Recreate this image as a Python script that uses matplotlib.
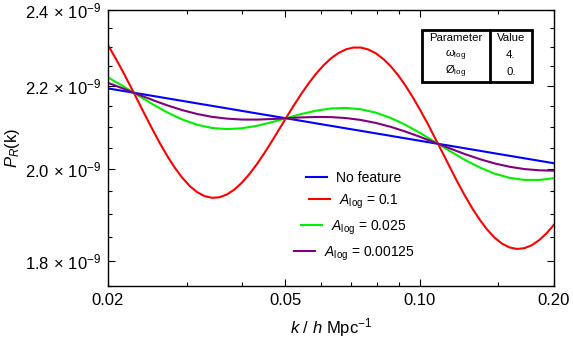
import matplotlib
matplotlib.use("Agg")
import matplotlib.pyplot as plt
from matplotlib.patches import Rectangle
from matplotlib.ticker import FixedLocator, FixedFormatter, NullFormatter

plt.rcParams['font.family'] = ['Liberation Sans', 'DejaVu Sans']
plt.rcParams['mathtext.fontset'] = 'custom'
plt.rcParams['mathtext.rm'] = 'Liberation Sans'
plt.rcParams['mathtext.it'] = 'Liberation Sans:italic'
plt.rcParams['mathtext.bf'] = 'Liberation Sans:bold'

# k in h/Mpc
k = [0.02000, 0.02160, 0.02332, 0.02518, 0.02719, 0.02936, 0.03170, 0.03423,
     0.03696, 0.03991, 0.04309, 0.04653, 0.05024, 0.05425, 0.05857, 0.06325,
     0.06829, 0.07374, 0.07962, 0.08597, 0.09283, 0.1002, 0.1082, 0.1169,
     0.1262, 0.1363, 0.1471, 0.1589, 0.1715, 0.1852, 0.2000]
# finer k grid for the big oscillation
k_fine = [0.02000, 0.02078, 0.02160, 0.02244, 0.02332, 0.02423, 0.02518, 0.02616,
          0.02719, 0.02825, 0.02936, 0.03051, 0.03170, 0.03294, 0.03423, 0.03557,
          0.03696, 0.03840, 0.03991, 0.04147, 0.04309, 0.04478, 0.04653, 0.04835,
          0.05024, 0.05220, 0.05425, 0.05637, 0.05857, 0.06086, 0.06325, 0.06572,
          0.06829, 0.07096, 0.07374, 0.07662, 0.07962, 0.08274, 0.08597, 0.08934,
          0.09283, 0.09646, 0.1002, 0.1042, 0.1082, 0.1125, 0.1169, 0.1214,
          0.1262, 0.1311, 0.1363, 0.1416, 0.1471, 0.1529, 0.1589, 0.1651,
          0.1715, 0.1783, 0.1852, 0.1925, 0.2000]

# P_R(k) in units of 1e-9
no_feature = [2.1940, 2.1877, 2.1815, 2.1753, 2.1691, 2.1629, 2.1567, 2.1506,
              2.1445, 2.1383, 2.1322, 2.1262, 2.1201, 2.1141, 2.1080, 2.1020,
              2.0960, 2.0901, 2.0841, 2.0782, 2.0722, 2.0663, 2.0604, 2.0546,
              2.0487, 2.0429, 2.0370, 2.0312, 2.0254, 2.0197, 2.0139]
a_01 = [2.3052, 2.2717, 2.2364, 2.2001, 2.1636, 2.1275, 2.0928, 2.0600,
        2.0300, 2.0033, 1.9805, 1.9620, 1.9483, 1.9395, 1.9358, 1.9371,
        1.9433, 1.9542, 1.9695, 1.9887, 2.0112, 2.0366, 2.0641, 2.0930,
        2.1224, 2.1518, 2.1802, 2.2069, 2.2313, 2.2528, 2.2708, 2.2847,
        2.2942, 2.2990, 2.2990, 2.2941, 2.2843, 2.2698, 2.2510, 2.2281,
        2.2017, 2.1722, 2.1406, 2.1072, 2.0729, 2.0384, 2.0045, 1.9718,
        1.9410, 1.9130, 1.8880, 1.8668, 1.8497, 1.8370, 1.8290, 1.8258,
        1.8273, 1.8335, 1.8442, 1.8589, 1.8772]
a_0025 = [2.2218, 2.1999, 2.1770, 2.1547, 2.1343, 2.1173, 2.1046, 2.0969,
          2.0942, 2.0961, 2.1020, 2.1107, 2.1207, 2.1306, 2.1388, 2.1442,
          2.1455, 2.1423, 2.1341, 2.1214, 2.1046, 2.0849, 2.0635, 2.0421,
          2.0218, 2.0042, 1.9902, 1.9807, 1.9759, 1.9758, 1.9797]
a_000125 = [2.2079, 2.1938, 2.1793, 2.1650, 2.1517, 2.1401, 2.1307, 2.1237,
            2.1194, 2.1172, 2.1171, 2.1184, 2.1204, 2.1224, 2.1234, 2.1231,
            2.1208, 2.1162, 2.1091, 2.0998, 2.0884, 2.0756, 2.0620, 2.0483,
            2.0352, 2.0235, 2.0136, 2.0059, 2.0006, 1.9978, 1.9968]

labels = ['No feature', r'$A_{\mathrm{log}}$ = 0.1',
          r'$A_{\mathrm{log}}$ = 0.025', r'$A_{\mathrm{log}}$ = 0.00125']
colors = ['#0000ff', '#ff0000', '#00f000', '#800080']

xticks = [0.02, 0.05, 0.10, 0.20]
xticklabels = ['0.02', '0.05', '0.10', '0.20']
xminor = [0.03, 0.04, 0.06, 0.07, 0.08, 0.09, 0.15]
yticks = [1.8e-9, 2.0e-9, 2.2e-9, 2.4e-9]
yticklabels = [r'1.8$\,\times\,$10$^{-9}$', r'2.0$\,\times\,$10$^{-9}$',
               r'2.2$\,\times\,$10$^{-9}$', r'2.4$\,\times\,$10$^{-9}$']
yminor = [1.75e-9, 1.85e-9, 1.9e-9, 1.95e-9, 2.05e-9, 2.1e-9, 2.15e-9,
          2.25e-9, 2.3e-9, 2.35e-9]

table_rows = [('Parameter', 'Value'),
              (r'$\omega_{\mathrm{log}}$', '4.'),
              (r'Ø$_{\mathrm{log}}$', '0.')]

fig = plt.figure(figsize=(5.73, 3.41), dpi=100)
ax = fig.add_axes([0.1885, 0.1613, 0.7783, 0.8094])

series = [(k, no_feature), (k_fine, a_01), (k, a_0025), (k, a_000125)]
for (xs, ys), c, lab in zip(series, colors, labels):
    ax.plot(xs, [v * 1e-9 for v in ys], color=c, lw=1.5, label=lab)

ax.set_xscale('log')
ax.set_yscale('log')
ax.set_xlim(0.02, 0.20)
ax.set_ylim(1.75e-9, 2.4e-9)

ax.xaxis.set_major_locator(FixedLocator(xticks))
ax.xaxis.set_major_formatter(FixedFormatter(xticklabels))
ax.xaxis.set_minor_locator(FixedLocator(xminor))
ax.xaxis.set_minor_formatter(NullFormatter())
ax.yaxis.set_major_locator(FixedLocator(yticks))
ax.yaxis.set_major_formatter(FixedFormatter(yticklabels))
ax.yaxis.set_minor_locator(FixedLocator(yminor))
ax.yaxis.set_minor_formatter(NullFormatter())

ax.tick_params(which='both', direction='in', top=True, right=True, width=0.8)
ax.tick_params(which='major', length=5, labelsize=12, pad=5)
ax.tick_params(which='minor', length=3)
for s in ax.spines.values():
    s.set_linewidth(1.0)

ax.set_xlabel(r'$k$ / $h$ Mpc$^{-1}$', fontsize=12, labelpad=6)
ax.set_ylabel(r'$P_R$(k)', fontsize=12, labelpad=2)

leg = ax.legend(loc='center', bbox_to_anchor=(0.5516, 0.251), frameon=False,
                fontsize=10, handlelength=1.5, handletextpad=0.65, labelspacing=0.55)
# centre each legend row like the original
for col in leg._legend_handle_box.get_children():
    col.align = 'center'

# parameter table
x0, x1, xd = 0.7034, 0.950, 0.8565
y0, y1 = 0.740, 0.9275
ax.add_patch(Rectangle((x0, y0), x1 - x0, y1 - y0, transform=ax.transAxes,
                       fill=False, lw=2.0, ec='black', zorder=5))
ax.plot([xd, xd], [y0, y1], transform=ax.transAxes, color='black', lw=2.0, zorder=5)
row_y = [0.8975, 0.837, 0.7765]
for (left, right), ty in zip(table_rows, row_y):
    ax.text((x0 + xd) / 2, ty, left, transform=ax.transAxes, ha='center',
            va='center', fontsize=8.2, zorder=6)
    ax.text((xd + x1) / 2, ty, right, transform=ax.transAxes, ha='center',
            va='center', fontsize=8.2, zorder=6)

fig.savefig('out.png', dpi=100)
